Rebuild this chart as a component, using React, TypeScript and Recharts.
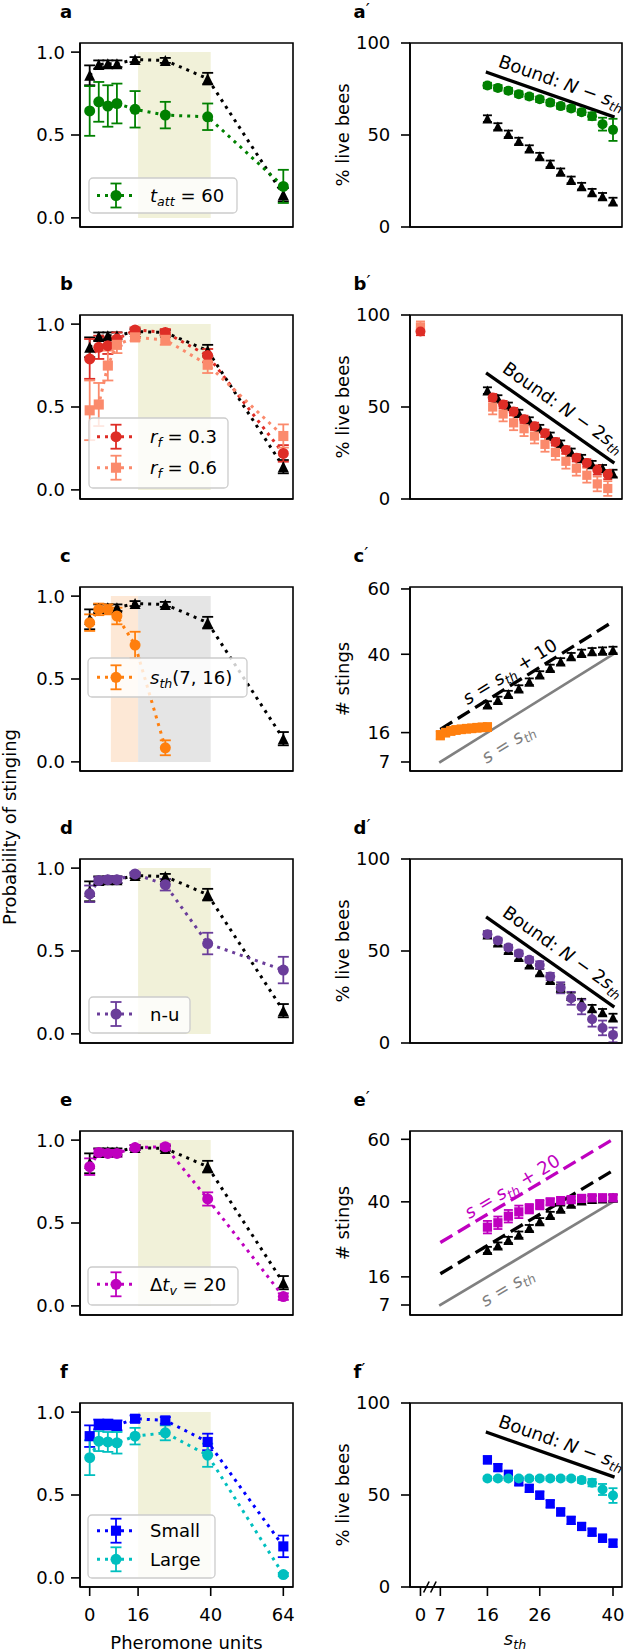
import React from 'react';
import {
  ComposedChart,
  Line,
  XAxis,
  YAxis,
  ErrorBar,
  ReferenceArea,
  ReferenceLine,
  ReferenceDot,
} from 'recharts';

const FONT = "'DejaVu Sans', 'Liberation Sans', sans-serif";

// ---------- layout ----------
const ROW_TOPS = [43, 315, 587, 859, 1131, 1403];
const BOX_H = 184;

// ---------- colours ----------
const BLACK = '#000000';
const GREEN = '#008000';
const RED = '#de2d26';
const SALMON = '#fb8a6c';
const ORANGE = '#ff7f0e';
const PURPLE = '#6a3d9a';
const MAGENTA = '#bf00bf';
const BLUE = '#0000ff';
const CYAN = '#00bfbf';
const GRAY = '#808080';
const SHADE_Y = '#f1f1d9';
const SHADE_O = '#fde8d6';
const SHADE_G = '#e5e5e5';

// ---------- left column: probability of stinging vs pheromone units ----------
const pheromoneX = [0, 3, 6, 9, 15, 25, 39, 64];
const pheromoneTicks = [0, 16, 40, 64];
const probTicks = [0, 0.5, 1];
const probDomain = [-0.055, 1.055];
const pherDomain = [-3.2, 67.2];

const refProb = [0.86, 0.925, 0.93, 0.93, 0.955, 0.95, 0.84, 0.14];
const refProbErr = [0.06, 0.025, 0.02, 0.02, 0.015, 0.015, 0.035, 0.04];
const tattProb = [0.645, 0.7, 0.675, 0.69, 0.655, 0.62, 0.61, 0.19];
const tattProbErr = [0.15, 0.12, 0.125, 0.12, 0.11, 0.08, 0.08, 0.1];
const rf03Prob = [0.79, 0.86, 0.87, 0.91, 0.965, 0.95, 0.81, 0.22];
const rf03ProbErr = [0.12, 0.07, 0.05, 0.04, 0.015, 0.02, 0.04, 0.05];
const rf06Prob = [0.48, 0.515, 0.75, 0.875, 0.92, 0.905, 0.755, 0.325];
const rf06ProbErr = [0.18, 0.13, 0.09, 0.05, 0.02, 0.03, 0.05, 0.07];
const sthRangeX = [0, 3, 6, 9, 15, 25];
const sthRangeProb = [0.84, 0.92, 0.92, 0.88, 0.705, 0.085];
const sthRangeProbErr = [0.05, 0.035, 0.03, 0.05, 0.08, 0.045];
const nuProb = [0.845, 0.925, 0.93, 0.93, 0.965, 0.9, 0.545, 0.385];
const nuProbErr = [0.05, 0.02, 0.02, 0.02, 0.01, 0.035, 0.065, 0.08];
const dtvProb = [0.84, 0.925, 0.92, 0.92, 0.955, 0.96, 0.645, 0.056];
const dtvProbErr = [0.05, 0.02, 0.02, 0.02, 0.015, 0.015, 0.04, 0.02];
const smallProb = [0.855, 0.925, 0.925, 0.92, 0.96, 0.95, 0.82, 0.19];
const smallProbErr = [0.065, 0.03, 0.03, 0.03, 0.02, 0.02, 0.05, 0.065];
const largeProb = [0.725, 0.825, 0.82, 0.815, 0.855, 0.875, 0.74, 0.02];
const largeProbErr = [0.105, 0.06, 0.06, 0.065, 0.05, 0.045, 0.07, 0.01];

// ---------- right column: vs threshold s_th ----------
const ZERO_POS = 3.2; // broken axis: s_th = 0 drawn here
const sthDomain = [1.2, 41.72];
const sthTicks = [0, 7, 16, 26, 40];
const sthX = [16, 18, 20, 22, 24, 26, 28, 30, 32, 34, 36, 38, 40];
const sthOddX = [0, 17, 19, 21, 23, 25, 27, 29, 31, 33, 35, 37, 39];
const sthLowX = [7, 8, 9, 10, 11, 12, 13, 14, 15, 16];
const liveTicks = [0, 50, 100];
const liveDomain = [0, 100];
const stingTicks = [7, 16, 40, 60];
const stingDomainC = [4.24, 60.6];
const stingDomainE = [3.8, 62.66];

const refLive = [58.9, 54.6, 50.6, 46.7, 42.6, 38.5, 34.3, 30.0, 25.6, 22.2, 18.9, 16.7, 13.9];
const refLiveErr = [1.8, 1.8, 1.8, 1.8, 1.8, 1.8, 1.8, 1.8, 1.8, 1.8, 1.8, 1.8, 2];
const tattLive = [76.9, 75.6, 74.1, 72.2, 70.9, 69.4, 67.6, 65.7, 64.4, 62.4, 60.2, 55.9, 52.8];
const tattLiveErr = [1.5, 1.5, 1.5, 1.5, 1.5, 1.5, 1.5, 1.5, 1.5, 1.5, 2, 3.5, 6];
const rf03Live = [91, 55.1, 51.3, 47.5, 43.3, 39.5, 35.7, 31.0, 26.6, 22.4, 19.6, 15.8, 13.3];
const rf03LiveErr = [2, 2, 2, 2, 2, 2, 2, 2, 2, 2, 2, 2.5, 2.5];
const rf06Live = [93.5, 50, 46.2, 41.4, 38.2, 34.2, 29.7, 25.3, 20.5, 16.7, 12.9, 8.2, 5.7];
const rf06LiveErr = [3, 4, 4, 4, 4, 4, 4, 4, 4, 4, 4, 4, 4];
const sthLowStings = [15.2, 16.0, 16.5, 16.8, 17.0, 17.2, 17.3, 17.5, 17.6, 17.7];
const sthLowStingsErr = [1.3, 1.2, 1.2, 1.2, 1.2, 1.2, 1.2, 1.2, 1.2, 1.2];
const refStings = [24.6, 26.0, 27.8, 29.5, 31.6, 33.8, 35.8, 37.8, 39.4, 40.4, 40.9, 41.1, 41.3];
const refStingsErr = [1, 1, 1, 1, 1, 1, 1, 1, 1, 1, 1, 1, 1];
const nuLive = [59.1, 55.7, 51.9, 48.7, 45.2, 42.4, 36.1, 30.0, 24.3, 19.6, 12.9, 8.2, 4.4];
const nuLiveErr = [1.5, 1.5, 1.5, 1.5, 1.5, 2, 2, 3, 3.5, 4, 4, 4, 4];
const dtvStings = [31.9, 33.3, 35.4, 36.8, 37.8, 39.1, 40.0, 40.4, 40.7, 41.1, 41.3, 41.3, 41.3];
const dtvStingsErr = [2, 2, 2, 2, 1.5, 1.5, 1, 1, 1, 1, 1, 1, 1];
const smallLive = [69.1, 64.9, 61.2, 57.2, 53.6, 49.9, 45.2, 40.8, 36.2, 32.9, 29.8, 26.5, 23.8];
const smallLiveErr = [2, 2, 2, 2, 2, 2, 2, 2, 2, 2, 2, 2, 2];
const largeLive = [59, 59, 59, 59, 59, 59, 59, 59, 59, 58.1, 56.7, 53, 49.7];
const largeLiveErr = [1, 1, 1, 1, 1, 1, 1, 1, 1, 1.5, 2, 3, 4];

// guide lines (endpoints)
const boundX = [16, 40];
const boundOneY = [84, 60];
const boundTwoY = [68, 20];
const diagX = [7, 40];
const diagY = [7, 40];
const plus10Y = [17, 50];
const plus20Y = [27, 60];

// ---------- helpers ----------
type Kind = 'tri' | 'circ' | 'sq';
type Series = { xs: number[]; ys: number[]; es: number[]; color: string; kind: Kind };

const sx = (v: number) => (v === 0 ? ZERO_POS : v);
const toData = (xs: number[], ys: number[], es: number[], mapX: (v: number) => number = (v) => v) =>
  xs.map((x, i) => ({ x: mapX(x), y: ys[i], e: es[i] }));

function Marker({ kind, cx, cy, size, color }: { kind: Kind; cx: number; cy: number; size: number; color: string }) {
  const h = size / 2;
  if (kind === 'tri') return <path d={`M${cx},${cy - h}L${cx - h},${cy + h}L${cx + h},${cy + h}Z`} fill={color} />;
  if (kind === 'sq') return <rect x={cx - h * 0.92} y={cy - h * 0.92} width={size * 0.92} height={size * 0.92} fill={color} />;
  return <circle cx={cx} cy={cy} r={h} fill={color} />;
}

const dotRenderer = (kind: Kind, size: number, color: string) => (p: any) => {
  const key = `dot-${p.index}`;
  if (p.cx == null || p.cy == null || isNaN(p.cx) || isNaN(p.cy)) return <g key={key} />;
  return <Marker key={key} kind={kind} cx={p.cx} cy={p.cy} size={size} color={color} />;
};

const TICK = { fill: '#000', fontSize: 18, fontFamily: FONT };
const TICK_LINE = { stroke: '#000', strokeWidth: 1.6 };
const AXIS_LINE = { stroke: '#000', strokeWidth: 1.6 };

const Sub = ({ children }: { children: React.ReactNode }) => (
  <tspan fontStyle="italic" fontSize={12.6} dy={4}>
    {children}
  </tspan>
);

function guideShape(color: string, width: number, dash: string | undefined, label: React.ReactNode, t: number, off: number) {
  return (p: any) => {
    const { x1, y1, x2, y2 } = p;
    const ang = (Math.atan2(y2 - y1, x2 - x1) * 180) / Math.PI;
    const px = x1 + t * (x2 - x1);
    const py = y1 + t * (y2 - y1);
    return (
      <g>
        <line
          x1={x1}
          y1={y1}
          x2={x2}
          y2={y2}
          stroke={color}
          strokeWidth={width}
          strokeDasharray={dash}
          strokeLinecap={dash ? 'butt' : 'square'}
        />
        {label ? (
          <text
            transform={`translate(${px},${py}) rotate(${ang})`}
            x={0}
            y={-off}
            textAnchor="middle"
            fill={color}
            fontSize={18}
            fontFamily={FONT}
            style={{ whiteSpace: 'pre' }}
          >
            {label}
          </text>
        ) : null}
      </g>
    );
  };
}

const boundOneText = (
  <>
    <tspan>Bound: </tspan>
    <tspan fontStyle="italic">N</tspan>
    <tspan> − </tspan>
    <tspan fontStyle="italic">s</tspan>
    <Sub>th</Sub>
  </>
);
const boundTwoText = (
  <>
    <tspan>Bound: </tspan>
    <tspan fontStyle="italic">N</tspan>
    <tspan> − 2</tspan>
    <tspan fontStyle="italic">s</tspan>
    <Sub>th</Sub>
  </>
);
const diagText = (
  <>
    <tspan fontStyle="italic">s</tspan>
    <tspan> = </tspan>
    <tspan fontStyle="italic">s</tspan>
    <Sub>th</Sub>
  </>
);
const plusText = (n: string) => (
  <>
    <tspan fontStyle="italic">s</tspan>
    <tspan> = </tspan>
    <tspan fontStyle="italic">s</tspan>
    <Sub>th</Sub>
    <tspan dy={-4}>{` + ${n}`}</tspan>
  </>
);

type Guide = {
  xs: number[];
  ys: number[];
  color: string;
  width: number;
  dash?: string;
  label?: React.ReactNode;
  t: number;
  off: number;
};

// ---------- panels ----------
const refLeft: Series = { xs: pheromoneX, ys: refProb, es: refProbErr, color: BLACK, kind: 'tri' };

const LEFT_PANELS: { series: Series[]; shades: { x1: number; x2: number; fill: string }[] }[] = [
  { series: [refLeft, { xs: pheromoneX, ys: tattProb, es: tattProbErr, color: GREEN, kind: 'circ' }], shades: [{ x1: 16, x2: 40, fill: SHADE_Y }] },
  {
    series: [
      refLeft,
      { xs: pheromoneX, ys: rf03Prob, es: rf03ProbErr, color: RED, kind: 'circ' },
      { xs: pheromoneX, ys: rf06Prob, es: rf06ProbErr, color: SALMON, kind: 'sq' },
    ],
    shades: [{ x1: 16, x2: 40, fill: SHADE_Y }],
  },
  {
    series: [refLeft, { xs: sthRangeX, ys: sthRangeProb, es: sthRangeProbErr, color: ORANGE, kind: 'circ' }],
    shades: [
      { x1: 7, x2: 16, fill: SHADE_O },
      { x1: 16, x2: 40, fill: SHADE_G },
    ],
  },
  { series: [refLeft, { xs: pheromoneX, ys: nuProb, es: nuProbErr, color: PURPLE, kind: 'circ' }], shades: [{ x1: 16, x2: 40, fill: SHADE_Y }] },
  { series: [refLeft, { xs: pheromoneX, ys: dtvProb, es: dtvProbErr, color: MAGENTA, kind: 'circ' }], shades: [{ x1: 16, x2: 40, fill: SHADE_Y }] },
  {
    series: [
      { xs: pheromoneX, ys: smallProb, es: smallProbErr, color: BLUE, kind: 'sq' },
      { xs: pheromoneX, ys: largeProb, es: largeProbErr, color: CYAN, kind: 'circ' },
    ],
    shades: [{ x1: 16, x2: 40, fill: SHADE_Y }],
  },
];

const refLiveS: Series = { xs: sthX, ys: refLive, es: refLiveErr, color: BLACK, kind: 'tri' };
const refStingS: Series = { xs: sthX, ys: refStings, es: refStingsErr, color: BLACK, kind: 'tri' };

const RIGHT_PANELS: { domain: number[]; ticks: number[]; series: Series[]; guides: Guide[] }[] = [
  {
    domain: liveDomain,
    ticks: liveTicks,
    series: [refLiveS, { xs: sthX, ys: tattLive, es: tattLiveErr, color: GREEN, kind: 'circ' }],
    guides: [{ xs: boundX, ys: boundOneY, color: BLACK, width: 3.3, label: boundOneText, t: 0.55, off: 9 }],
  },
  {
    domain: liveDomain,
    ticks: liveTicks,
    series: [
      refLiveS,
      { xs: sthOddX, ys: rf06Live, es: rf06LiveErr, color: SALMON, kind: 'sq' },
      { xs: sthOddX, ys: rf03Live, es: rf03LiveErr, color: RED, kind: 'circ' },
    ],
    guides: [{ xs: boundX, ys: boundTwoY, color: BLACK, width: 3.3, label: boundTwoText, t: 0.53, off: 10 }],
  },
  {
    domain: stingDomainC,
    ticks: stingTicks,
    series: [refStingS, { xs: sthLowX, ys: sthLowStings, es: sthLowStingsErr, color: ORANGE, kind: 'sq' }],
    guides: [
      { xs: diagX, ys: diagY, color: GRAY, width: 2.7, label: diagText, t: 0.33, off: -26 },
      { xs: diagX, ys: plus10Y, color: BLACK, width: 3.3, dash: '14 6.5', label: plusText('10'), t: 0.44, off: 6 },
    ],
  },
  {
    domain: liveDomain,
    ticks: liveTicks,
    series: [refLiveS, { xs: sthX, ys: nuLive, es: nuLiveErr, color: PURPLE, kind: 'circ' }],
    guides: [{ xs: boundX, ys: boundTwoY, color: BLACK, width: 3.3, label: boundTwoText, t: 0.53, off: 10 }],
  },
  {
    domain: stingDomainE,
    ticks: stingTicks,
    series: [refStingS, { xs: sthX, ys: dtvStings, es: dtvStingsErr, color: MAGENTA, kind: 'sq' }],
    guides: [
      { xs: diagX, ys: diagY, color: GRAY, width: 2.7, label: diagText, t: 0.33, off: -25 },
      { xs: diagX, ys: plus10Y, color: BLACK, width: 3.3, dash: '14 6.5', t: 0.5, off: 0 },
      { xs: diagX, ys: plus20Y, color: MAGENTA, width: 3.3, dash: '14 6.5', label: plusText('20'), t: 0.45, off: 5 },
    ],
  },
  {
    domain: liveDomain,
    ticks: liveTicks,
    series: [
      { xs: sthX, ys: smallLive, es: smallLiveErr, color: BLUE, kind: 'sq' },
      { xs: sthX, ys: largeLive, es: largeLiveErr, color: CYAN, kind: 'circ' },
    ],
    guides: [{ xs: boundX, ys: boundOneY, color: BLACK, width: 3.3, label: boundOneText, t: 0.55, off: 9 }],
  },
];

function LeftPanel({ row }: { row: number }) {
  const cfg = LEFT_PANELS[row];
  const bottom = row === ROW_TOPS.length - 1;
  return (
    <div style={{ position: 'absolute', left: 0, top: ROW_TOPS[row] - 10 }}>
      <ComposedChart width={300} height={10 + BOX_H + 60} margin={{ top: 10, right: 7, bottom: 0, left: 0 }}>
        <XAxis
          type="number"
          dataKey="x"
          domain={pherDomain}
          allowDataOverflow
          ticks={pheromoneTicks}
          interval={0}
          height={60}
          tick={bottom ? TICK : false}
          tickLine={TICK_LINE}
          axisLine={AXIS_LINE}
          tickSize={9}
          tickMargin={12.6}
        />
        <YAxis
          type="number"
          domain={probDomain}
          allowDataOverflow
          ticks={probTicks}
          interval={0}
          width={80}
          tick={TICK}
          tickLine={TICK_LINE}
          axisLine={AXIS_LINE}
          tickSize={9}
          tickMargin={6}
          tickFormatter={(v: any) => Number(v).toFixed(1)}
        />
        {cfg.shades.map((s, i) => (
          <ReferenceArea key={`sh${i}`} x1={s.x1} x2={s.x2} y1={0} y2={1} fill={s.fill} fillOpacity={1} stroke="none" ifOverflow="visible" />
        ))}
        <ReferenceArea
          x1={pherDomain[0]}
          x2={pherDomain[1]}
          y1={probDomain[0]}
          y2={probDomain[1]}
          fill="none"
          stroke="#000"
          strokeWidth={1.6}
          ifOverflow="visible"
        />
        {cfg.series.map((s, i) => (
          <Line
            key={`ln${i}`}
            data={toData(s.xs, s.ys, s.es)}
            dataKey="y"
            type="linear"
            stroke={s.color}
            strokeWidth={3}
            strokeDasharray="3 5"
            dot={dotRenderer(s.kind, 11, s.color)}
            activeDot={false}
            isAnimationActive={false}
          >
            <ErrorBar dataKey="e" direction="y" width={5.5} stroke={s.color} strokeWidth={1.8} isAnimationActive={false} />
          </Line>
        ))}
      </ComposedChart>
    </div>
  );
}

const breakMark = (p: any) => {
  const { cx, cy } = p;
  return (
    <g>
      {[-3.5, 3.5].map((o) => (
        <line key={o} x1={cx + o - 2.8} y1={cy + 5.5} x2={cx + o + 2.8} y2={cy - 5.5} stroke="#000" strokeWidth={1.6} />
      ))}
    </g>
  );
};

function RightPanel({ row }: { row: number }) {
  const cfg = RIGHT_PANELS[row];
  const bottom = row === ROW_TOPS.length - 1;
  return (
    <div style={{ position: 'absolute', left: 312, top: ROW_TOPS[row] - 10 }}>
      <ComposedChart width={312} height={10 + BOX_H + 60} margin={{ top: 10, right: 2, bottom: 0, left: 0 }}>
        <XAxis
          type="number"
          dataKey="x"
          domain={sthDomain}
          allowDataOverflow
          ticks={sthTicks.map(sx)}
          interval={0}
          height={60}
          tick={bottom ? TICK : false}
          tickLine={TICK_LINE}
          axisLine={AXIS_LINE}
          tickSize={9}
          tickMargin={12.6}
          tickFormatter={(v: any) => (v === ZERO_POS ? '0' : String(v))}
        />
        <YAxis
          type="number"
          domain={cfg.domain}
          allowDataOverflow
          ticks={cfg.ticks}
          interval={0}
          width={98}
          tick={TICK}
          tickLine={TICK_LINE}
          axisLine={AXIS_LINE}
          tickSize={9}
          tickMargin={10.7}
        />
        <ReferenceArea
          x1={sthDomain[0]}
          x2={sthDomain[1]}
          y1={cfg.domain[0]}
          y2={cfg.domain[1]}
          fill="none"
          stroke="#000"
          strokeWidth={1.6}
          ifOverflow="visible"
        />
        {cfg.guides.map((g, i) => (
          <ReferenceLine
            key={`g${i}`}
            segment={[
              { x: g.xs[0], y: g.ys[0] },
              { x: g.xs[1], y: g.ys[1] },
            ]}
            ifOverflow="visible"
            stroke={g.color}
            shape={guideShape(g.color, g.width, g.dash, g.label, g.t, g.off)}
          />
        ))}
        {cfg.series.map((s, i) => (
          <Line
            key={`s${i}`}
            data={toData(s.xs, s.ys, s.es, sx)}
            dataKey="y"
            type="linear"
            stroke="none"
            dot={dotRenderer(s.kind, 10, s.color)}
            activeDot={false}
            isAnimationActive={false}
          >
            <ErrorBar dataKey="e" direction="y" width={4.5} stroke={s.color} strokeWidth={1.8} isAnimationActive={false} />
          </Line>
        ))}
        {bottom ? <ReferenceDot x={5.0} y={cfg.domain[0]} r={0} ifOverflow="visible" shape={breakMark} /> : null}
      </ComposedChart>
    </div>
  );
}

// ---------- legends & labels overlay ----------
type LegendItem = { cy: number; color: string; kind: Kind; label: React.ReactNode };
type LegendCfg = { x: number; y: number; w: number; h: number; items: LegendItem[] };

const LEGENDS: LegendCfg[] = [
  {
    x: 89, y: 178, w: 148, h: 35,
    items: [{ cy: 195.5, color: GREEN, kind: 'circ', label: (<><tspan fontStyle="italic">t</tspan><Sub>att</Sub><tspan dy={-4}> = 60</tspan></>) }],
  },
  {
    x: 89, y: 418, w: 139, h: 70,
    items: [
      { cy: 436.7, color: RED, kind: 'circ', label: (<><tspan fontStyle="italic">r</tspan><Sub>f</Sub><tspan dy={-4}> = 0.3</tspan></>) },
      { cy: 467.7, color: SALMON, kind: 'sq', label: (<><tspan fontStyle="italic">r</tspan><Sub>f</Sub><tspan dy={-4}> = 0.6</tspan></>) },
    ],
  },
  {
    x: 88, y: 658, w: 159, h: 39,
    items: [{ cy: 677.3, color: ORANGE, kind: 'circ', label: (<><tspan fontStyle="italic">s</tspan><Sub>th</Sub><tspan dy={-4}>(7, 16)</tspan></>) }],
  },
  {
    x: 89, y: 997, w: 101, h: 36,
    items: [{ cy: 1014, color: PURPLE, kind: 'circ', label: 'n-u' }],
  },
  {
    x: 88, y: 1267, w: 150, h: 38,
    items: [{ cy: 1284.3, color: MAGENTA, kind: 'circ', label: (<><tspan>Δ</tspan><tspan fontStyle="italic">t</tspan><Sub>v</Sub><tspan dy={-4}> = 20</tspan></>) }],
  },
  {
    x: 88, y: 1515, w: 127, h: 63,
    items: [
      { cy: 1530.7, color: BLUE, kind: 'sq', label: 'Small' },
      { cy: 1559.3, color: CYAN, kind: 'circ', label: 'Large' },
    ],
  },
];

const LETTERS = ['a', 'b', 'c', 'd', 'e', 'f'];
const RIGHT_YLABELS = ['% live bees', '% live bees', '# stings', '% live bees', '# stings', '% live bees'];

function Overlay() {
  return (
    <svg
      width={624}
      height={1652}
      style={{ position: 'absolute', left: 0, top: 0, pointerEvents: 'none' }}
      fontFamily={FONT}
    >
      {ROW_TOPS.map((t, r) => (
        <g key={`row${r}`}>
          <text x={60} y={t - 25} fontSize={18} fontWeight="bold">
            {LETTERS[r]}
          </text>
          <text x={353.5} y={t - 25} fontSize={18} fontWeight="bold">
            {LETTERS[r]}
            <tspan fontWeight="normal" dy={-2}>′</tspan>
          </text>
          <text transform={`translate(349,${t + BOX_H / 2}) rotate(-90)`} textAnchor="middle" fontSize={18}>
            {RIGHT_YLABELS[r]}
          </text>
        </g>
      ))}
      <text transform="translate(16,827) rotate(-90)" textAnchor="middle" fontSize={18}>
        Probability of stinging
      </text>
      <text x={186.5} y={1649} textAnchor="middle" fontSize={18}>
        Pheromone units
      </text>
      <text x={515} y={1645} textAnchor="middle" fontSize={18}>
        <tspan fontStyle="italic">s</tspan>
        <Sub>th</Sub>
      </text>
      {LEGENDS.map((lg, i) => (
        <g key={`lg${i}`}>
          <rect x={lg.x} y={lg.y} width={lg.w} height={lg.h} rx={4} fill="#fff" fillOpacity={0.8} stroke="#cccccc" strokeWidth={1.3} />
          {lg.items.map((it, j) => (
            <g key={`it${j}`}>
              <line x1={97} x2={135} y1={it.cy} y2={it.cy} stroke={it.color} strokeWidth={3} strokeDasharray="3 5" />
              <line x1={116} x2={116} y1={it.cy - 12} y2={it.cy + 12} stroke={it.color} strokeWidth={1.8} />
              <line x1={110.5} x2={121.5} y1={it.cy - 12} y2={it.cy - 12} stroke={it.color} strokeWidth={1.8} />
              <line x1={110.5} x2={121.5} y1={it.cy + 12} y2={it.cy + 12} stroke={it.color} strokeWidth={1.8} />
              <Marker kind={it.kind} cx={116} cy={it.cy} size={11} color={it.color} />
              <text x={150} y={it.cy + 6.5} fontSize={18} style={{ whiteSpace: 'pre' }}>
                {it.label}
              </text>
            </g>
          ))}
        </g>
      ))}
    </svg>
  );
}

export default function App() {
  return (
    <div
      style={{
        position: 'absolute',
        left: 0,
        top: 0,
        width: 624,
        height: 1652,
        background: '#fff',
        overflow: 'hidden',
        fontFamily: FONT,
      }}
    >
      {ROW_TOPS.map((_, r) => (
        <LeftPanel key={`L${r}`} row={r} />
      ))}
      {ROW_TOPS.map((_, r) => (
        <RightPanel key={`R${r}`} row={r} />
      ))}
      <Overlay />
    </div>
  );
}
